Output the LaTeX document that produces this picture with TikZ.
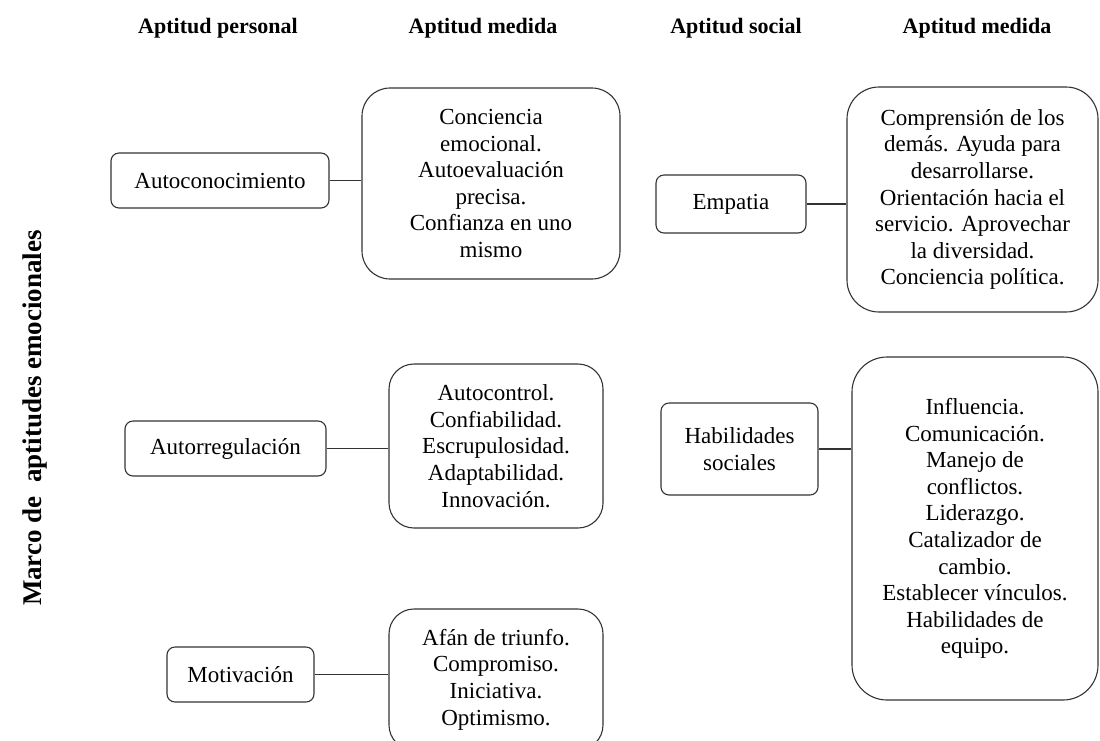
\documentclass[tikz,border=0pt]{standalone}
\usepackage{fontspec}
\setmainfont{Liberation Serif}

\begin{document}
\begin{tikzpicture}[
x=1pt, y=-1pt,
every node/.style={font=\fontsize{23}{26.6}\selectfont},
smallbox/.style={
rectangle,
draw=black!80,
line width=1.1pt,
rounded corners=8pt,
align=center,
inner sep=0 pt,
},
bigbox/.style={
smallbox,
rounded corners=28pt,
},
header/.style={
font=\fontsize{22}{26}\selectfont\bfseries,
anchor=base,
},
conn/.style={draw=black!80, line width=1.1pt}
]
\clip (0,0) rectangle (1100,740);

% column headers
\node [header] at (218,33) (hpers) {Aptitud personal};
\node [header] at (483,33) (hmed1) {Aptitud medida};
\node [header] at (736,33) (hsoc)  {Aptitud social};
\node [header] at (977,33) (hmed2) {Aptitud medida};
\node [rotate=90, font=\fontsize{27}{30}\selectfont\bfseries] at (35,418) (marco)
{Marco de~~aptitudes emocionales};

% personal aptitudes
\node [smallbox, minimum width=218pt, minimum height=55pt] at (220,180.5) (autocon)
{Autoconocimiento};
\node [smallbox, minimum width=201pt, minimum height=55pt] at (225.5,448.5) (autorreg)
{Autorregulación};
\node [smallbox, minimum width=147pt, minimum height=55pt] at (240.5,674.5) (motiv)
{Motivación};

\node [bigbox, minimum width=258pt, minimum height=191pt] at (491,183.5) (medauto)
{Conciencia\\emocional.\\Autoevaluación\\precisa.\\Confianza en uno\\mismo};
\node [bigbox, rounded corners=25pt, minimum width=214pt, minimum height=164pt] at (496,446) (medregul)
{Autocontrol.\\Confiabilidad.\\Escrupulosidad.\\Adaptabilidad.\\Innovación.};
\node [bigbox, rounded corners=25pt, minimum width=214pt, minimum height=141pt] at (496,679.5) (medmotiv)
{Afán de triunfo.\\Compromiso.\\Iniciativa.\\Optimismo.};

% social aptitudes
\node [smallbox, minimum width=150pt, minimum height=58pt] at (731,204) (empat)
{Empatia};
\node [smallbox, minimum width=157pt, minimum height=92pt] at (739.5,449) (habil)
{Habilidades\\sociales};

\node [bigbox, rounded corners=32pt, minimum width=251pt, minimum height=225pt] at (972.5,199.5) (medempat)
{Comprensión de los\\demás. Ayuda para\\desarrollarse.\\Orientación hacia el\\servicio. Aprovechar\\la diversidad.\\Conciencia política.};
\node [bigbox, rounded corners=35pt, minimum width=246pt, minimum height=343pt] at (975,528.5) (medhabil)
{Influencia.\\Comunicación.\\Manejo de\\conflictos.\\Liderazgo.\\Catalizador de\\cambio.\\Establecer vínculos.\\Habilidades de\\equipo.};

% connectors
\draw [conn] (autocon.east) -- (autocon.east -| medauto.west);
\draw [conn] (autorreg.east) -- (autorreg.east -| medregul.west);
\draw [conn] (motiv.east) -- (motiv.east -| medmotiv.west);
\draw [conn] (empat.east) -- (empat.east -| medempat.west);
\draw [conn] (habil.east) -- (habil.east -| medhabil.west);

\end{tikzpicture}
\end{document}
